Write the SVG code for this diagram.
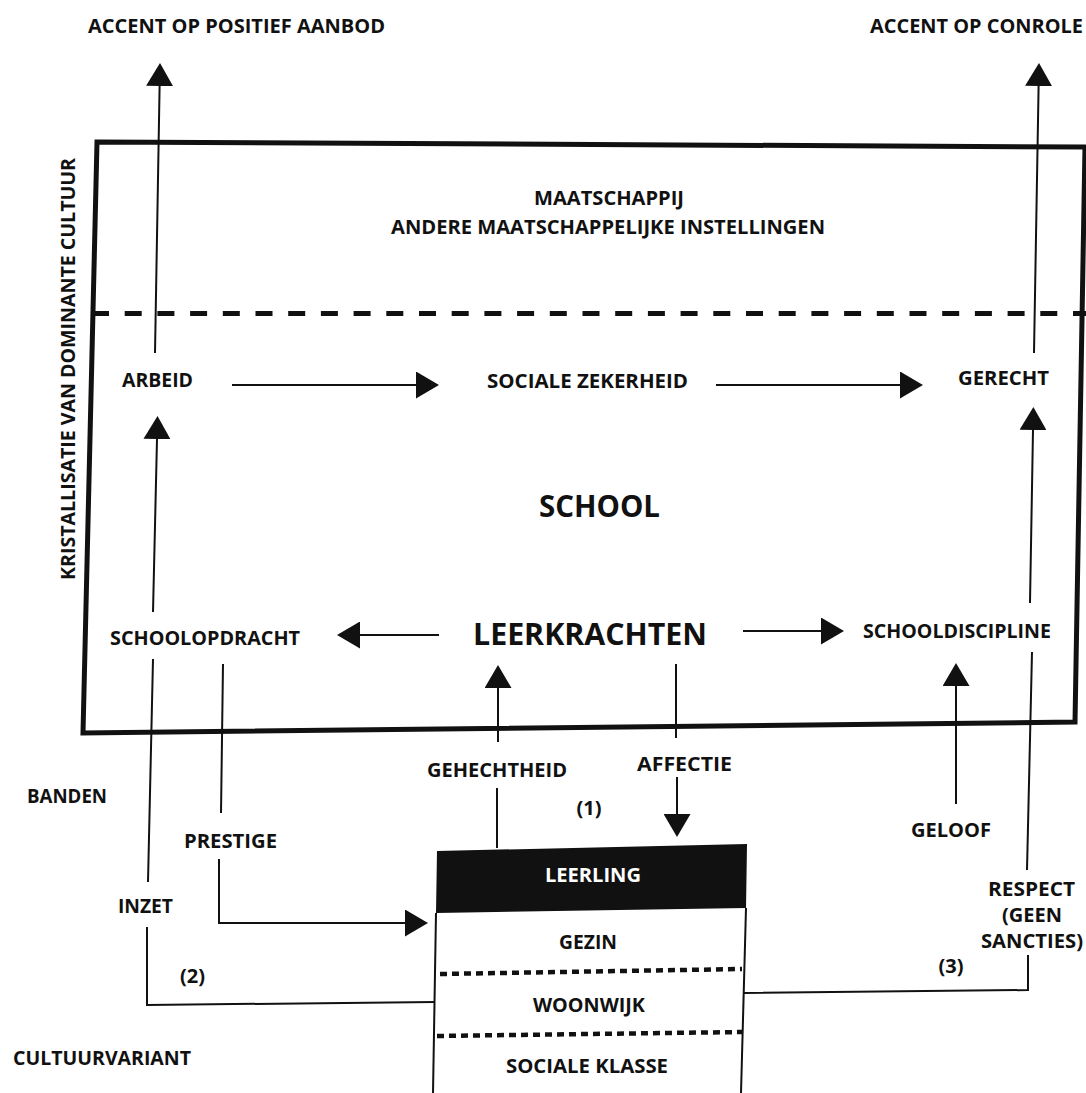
<svg xmlns="http://www.w3.org/2000/svg" width="1086" height="1093" viewBox="0 0 1086 1093">
<style>
.t{font-family:"Open Sans","DejaVu Sans",sans-serif;font-weight:700;font-size:20px;fill:#111;text-anchor:middle}
.big{font-size:31px}
.w{fill:#fff}
.ln{fill:none;stroke:#111;stroke-width:2}
.frame{fill:none;stroke:#111;stroke-width:5;stroke-linejoin:miter}
.dash{fill:none;stroke:#111;stroke-width:5;stroke-dasharray:17 15.7}
.dot{fill:none;stroke:#111;stroke-width:4.5;stroke-dasharray:7 5}
</style>
<defs>
<marker id="ah" markerUnits="userSpaceOnUse" markerWidth="24" markerHeight="27" refX="0" refY="13.5" orient="auto">
<path d="M0,0 L23,13.5 L0,27 Z" fill="#111"/>
</marker>
</defs>
<rect width="1086" height="1093" fill="#fff"/>

<g id="frame">
<polygon class="frame" points="97,142 1085,147 1075,722 83,733"/>
<line class="dash" x1="92" y1="313.5" x2="1086" y2="313.5"/>
</g>

<g id="connectors">
<line class="ln" x1="155" y1="353" x2="159.6" y2="86" marker-end="url(#ah)"/>
<line class="ln" x1="1034" y1="353" x2="1038.6" y2="86" marker-end="url(#ah)"/>
<line class="ln" x1="232" y1="385" x2="416" y2="385" marker-end="url(#ah)"/>
<line class="ln" x1="716" y1="385" x2="900" y2="385" marker-end="url(#ah)"/>
<line class="ln" x1="153" y1="612" x2="157" y2="439" marker-end="url(#ah)"/>
<line class="ln" x1="1030" y1="603" x2="1033" y2="430" marker-end="url(#ah)"/>
<line class="ln" x1="439" y1="635" x2="360" y2="635" marker-end="url(#ah)"/>
<line class="ln" x1="743" y1="631" x2="821" y2="631" marker-end="url(#ah)"/>
<line class="ln" x1="497" y1="848" x2="497" y2="788"/>
<line class="ln" x1="498" y1="742" x2="498" y2="688" marker-end="url(#ah)"/>
<line class="ln" x1="676" y1="664" x2="676" y2="738"/>
<line class="ln" x1="677" y1="777" x2="677" y2="814" marker-end="url(#ah)"/>
<line class="ln" x1="956" y1="804" x2="956" y2="686" marker-end="url(#ah)"/>
<line class="ln" x1="1032" y1="652" x2="1027" y2="870"/>
<polyline class="ln" points="1028,955 1028,990 743,993"/>
<line class="ln" x1="153" y1="659" x2="148" y2="882"/>
<polyline class="ln" points="147,927 147,1005 435,1002"/>
<line class="ln" x1="223" y1="664" x2="221" y2="813"/>
<polyline class="ln" points="219,859 219,923 405,923" marker-end="url(#ah)"/>
</g>

<g id="leerling">
<polygon points="437,851 747,844 746,908 436,913" fill="#111"/>
<polyline class="ln" points="436,913 433,1093"/>
<polyline class="ln" points="746,908 741,1093"/>
<line class="dot" x1="440" y1="974" x2="742" y2="969"/>
<line class="dot" x1="437" y1="1036" x2="742" y2="1032"/>
<text class="t w" x="593" y="882" textLength="96" lengthAdjust="spacingAndGlyphs">LEERLING</text>
<text class="t" x="588" y="949" textLength="58" lengthAdjust="spacingAndGlyphs">GEZIN</text>
<text class="t" x="589" y="1012" textLength="112" lengthAdjust="spacingAndGlyphs">WOONWIJK</text>
<text class="t" x="587" y="1073" textLength="162" lengthAdjust="spacingAndGlyphs">SOCIALE KLASSE</text>
</g>

<g id="accent-aanbod"><text class="t" x="236.5" y="33" textLength="297" lengthAdjust="spacingAndGlyphs">ACCENT OP POSITIEF AANBOD</text></g>
<g id="accent-controle"><text class="t" x="976.5" y="33" textLength="213" lengthAdjust="spacingAndGlyphs">ACCENT OP CONROLE</text></g>
<g id="maatschappij">
<text class="t" x="609" y="205" textLength="150" lengthAdjust="spacingAndGlyphs">MAATSCHAPPIJ</text>
<text class="t" x="608" y="234" textLength="434" lengthAdjust="spacingAndGlyphs">ANDERE MAATSCHAPPELIJKE INSTELLINGEN</text>
</g>
<g id="kristallisatie"><text class="t" transform="translate(75,369) rotate(-90)" x="0" y="0" textLength="422" lengthAdjust="spacingAndGlyphs">KRISTALLISATIE VAN DOMINANTE CULTUUR</text></g>
<g id="arbeid"><text class="t" x="157.5" y="387" textLength="71" lengthAdjust="spacingAndGlyphs">ARBEID</text></g>
<g id="sociale-zekerheid"><text class="t" x="587.5" y="388" textLength="201" lengthAdjust="spacingAndGlyphs">SOCIALE ZEKERHEID</text></g>
<g id="gerecht"><text class="t" x="1003.5" y="385" textLength="91" lengthAdjust="spacingAndGlyphs">GERECHT</text></g>
<g id="school"><text class="t big" x="599.5" y="517" textLength="121" lengthAdjust="spacingAndGlyphs">SCHOOL</text></g>
<g id="leerkrachten"><text class="t big" x="590" y="645" textLength="234" lengthAdjust="spacingAndGlyphs">LEERKRACHTEN</text></g>
<g id="schoolopdracht"><text class="t" x="205" y="645" textLength="190" lengthAdjust="spacingAndGlyphs">SCHOOLOPDRACHT</text></g>
<g id="schooldiscipline"><text class="t" x="957" y="638" textLength="188" lengthAdjust="spacingAndGlyphs">SCHOOLDISCIPLINE</text></g>
<g id="gehechtheid"><text class="t" x="497" y="777" textLength="140" lengthAdjust="spacingAndGlyphs">GEHECHTHEID</text></g>
<g id="affectie"><text class="t" x="684.5" y="771" textLength="95" lengthAdjust="spacingAndGlyphs">AFFECTIE</text></g>
<g id="label1"><text class="t" x="589" y="815">(1)</text></g>
<g id="banden"><text class="t" x="67" y="803" textLength="80" lengthAdjust="spacingAndGlyphs">BANDEN</text></g>
<g id="prestige"><text class="t" x="230.5" y="848" textLength="93" lengthAdjust="spacingAndGlyphs">PRESTIGE</text></g>
<g id="geloof"><text class="t" x="951" y="837" textLength="80" lengthAdjust="spacingAndGlyphs">GELOOF</text></g>
<g id="respect">
<text class="t" x="1031.5" y="896" textLength="87" lengthAdjust="spacingAndGlyphs">RESPECT</text>
<text class="t" x="1032" y="922" textLength="60" lengthAdjust="spacingAndGlyphs">(GEEN</text>
<text class="t" x="1032" y="948" textLength="102" lengthAdjust="spacingAndGlyphs">SANCTIES)</text>
</g>
<g id="inzet"><text class="t" x="145.5" y="913" textLength="55" lengthAdjust="spacingAndGlyphs">INZET</text></g>
<g id="label2"><text class="t" x="192.5" y="983">(2)</text></g>
<g id="label3"><text class="t" x="951" y="973">(3)</text></g>
<g id="cultuurvariant"><text class="t" x="102" y="1065" textLength="178" lengthAdjust="spacingAndGlyphs">CULTUURVARIANT</text></g>
</svg>
